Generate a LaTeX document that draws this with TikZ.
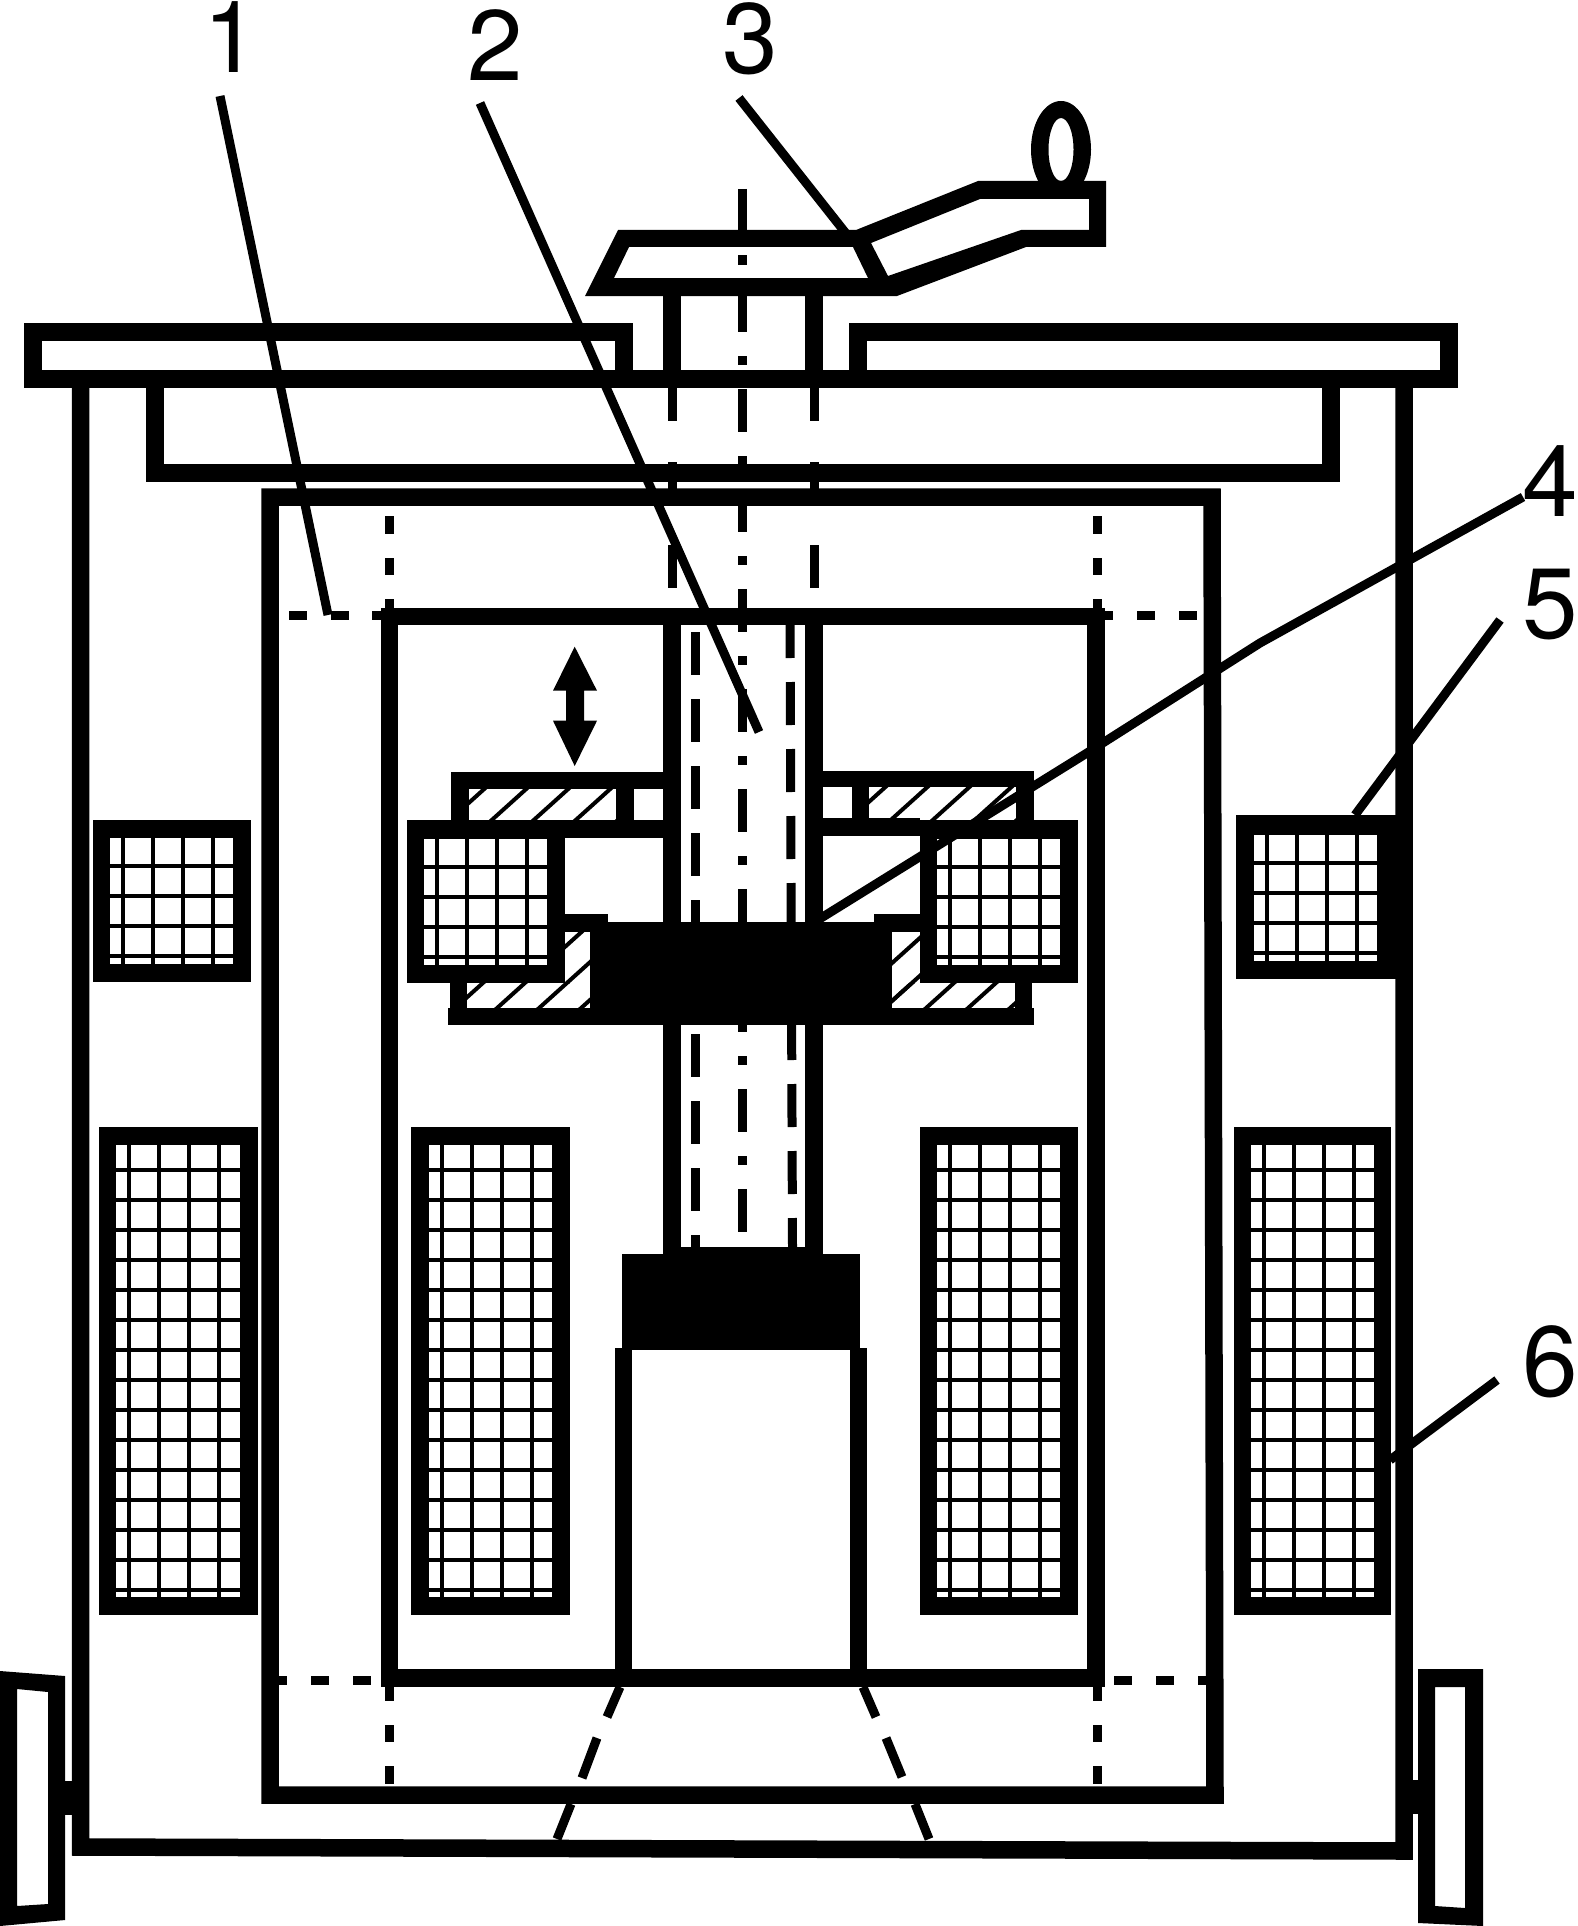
\documentclass[tikz,border=0pt]{standalone}
\usepackage{fontspec}
\setmainfont{TeX Gyre Heros}
\newcommand{\coilbox}[9]{%
  \fill[black] (#1,#2) rectangle (#3,#4);
  \fill[white] (#5,#6) rectangle (#7,#8);
  \begin{scope}
    \clip (#5,#6) rectangle (#7,#8);
    \foreach \i in {0,...,3} \draw[thinline] ({#5+13+30*\i},#6) -- ({#5+13+30*\i},#8);
    \foreach \i in {0,...,16} \draw[thinline] (#5,{#9+30*\i}) -- (#7,{#9+30*\i});
  \end{scope}
}
\newcommand{\hatchbox}[5]{%
  \begin{scope}
    \clip (#1,#2) rectangle (#3,#4);
    \foreach \i in {0,...,9} \draw[thinline] ({#5+42*\i-1.11*700},700) -- ({#5+42*\i-1.11*1100},1100);
  \end{scope}
}
\tikzset{
  wall/.style={line width=17.5pt,line join=miter,black},
  wire/.style={line width=9pt,black},
  thinline/.style={line width=4pt,black},
  hid/.style={line width=9pt,black},
  axisline/.style={line width=9pt,black,dash pattern=on 43pt off 24pt on 9pt off 24pt},
  tubedash/.style={line width=9pt,black,dash pattern=on 43pt off 24pt},
  lab/.style={font=\fontsize{100}{100}\selectfont,inner sep=0pt,anchor=base,text=black}
}
\begin{document}
\begin{tikzpicture}[x=1pt,y=-1pt]
\useasboundingbox (0,0) rectangle (1578,1926);
\fill[white] (0,0) rectangle (1578,1926);

% centre axis
\draw[axisline] (742.5,189) -- (742.5,1232);

% hidden stem lines
\foreach \x in {672.5,814} {
  \draw[hid] (\x,388) -- (\x,421);
  \draw[hid] (\x,462) -- (\x,505);
  \draw[hid] (\x,545) -- (\x,588);
}
% inner dashed tube
\draw[tubedash] (695.5,632) -- (695.5,1247);
\draw[tubedash] (790,615) -- (792.5,1247);

% small dashes at frame corners
\foreach \a/\b in {289/307,331/349,372/390,1105/1113,1137/1155,1179/1197}
  \draw[hid] (\a,615.5) -- (\b,615.5);
\foreach \a/\b in {279/287,311/329,353/371,1114/1132,1156/1174,1198/1206}
  \draw[hid] (\a,1680.5) -- (\b,1680.5);
\foreach \x/\xb in {389/389,1097/1097} {
  \draw[hid] (\x,516) -- (\x,534);
  \draw[hid] (\x,558) -- (\x,575);
  \draw[hid] (\x,599) -- (\x,610);
  \draw[hid] (\xb,1687) -- (\xb,1701);
  \draw[hid] (\xb,1725) -- (\xb,1742);
  \draw[hid] (\xb,1766) -- (\xb,1784);
}
% slanted bottom dashes
\draw[hid] (620,1687) -- (607,1717);
\draw[hid] (597,1738) -- (582,1778);
\draw[hid] (571,1804) -- (557,1839);
\draw[hid] (863,1687) -- (876,1717);
\draw[hid] (886,1738) -- (902,1777);
\draw[hid] (915,1804) -- (929,1839);

% lid
\draw[wall] (33,332) -- (624,332) -- (624,379) -- (858,379) -- (858,332) -- (1449,332) -- (1449,379) -- (33,379) -- cycle;
% tank
\draw[wall] (80.5,379) -- (80.5,1847) -- (1404,1851) -- (1404,379);
% box under lid
\draw[wall] (155,379) -- (155,473) -- (1331,473) -- (1331,379);
% stem
\draw[wall] (672,296) -- (672,379);
\draw[wall] (814,296) -- (814,379);
% inner box
\draw[wall] (270,497) -- (1212,497) -- (1215,1795) -- (270,1795) -- cycle;
% frame
\draw[wall] (389.5,616.5) rectangle (1096,1678);
% rod
\draw[wall] (672,616.5) -- (672,1255);
\draw[wall] (814,616.5) -- (814,1255);
% lower tube
\draw[wall] (623.5,1348) -- (623.5,1678);
\draw[wall] (858.5,1348) -- (858.5,1678);
% solid block under rod
\fill[black] (622,1254) rectangle (860,1350);
\fill[black] (681,1247) rectangle (805,1254);

% handle with cap
\fill[black,even odd rule] (1061,149.5) ellipse [x radius=30,y radius=48.5]
  (1061,149.5) ellipse [x radius=12.5,y radius=31.5];
\fill[black,even odd rule] (585,296) -- (618,230) -- (856,230) -- (978,181) -- (1106,181) -- (1106,247) -- (1026,247) -- (897,296) -- cycle
  (629,247) -- (853,247) -- (868,278) -- (614,278) -- cycle
  (871,243) -- (980,199) -- (1089,199) -- (1089,230) -- (1021,230) -- (888,276) -- cycle;
% axis piece over cap interior
\fill[black] (738,255) rectangle (747,265);

% hatches
\hatchbox{469}{789}{616}{820}{1318}
\hatchbox{869}{787}{1016}{820}{1717}
\hatchbox{467}{983}{590}{1008}{1490}
\hatchbox{565}{932}{590}{983}{1490}
\hatchbox{892}{932}{920}{1008}{1877}
\hatchbox{892}{983}{1015}{1008}{1877}

% upper shelves
\fill[black] (451,772) rectangle (663,789);
\fill[black] (451,772) rectangle (469,820);
\fill[black] (616,772) rectangle (634,820);
\fill[black] (407,820) rectangle (663,838);
\fill[black] (823,771) rectangle (1034,787);
\fill[black] (1016,771) rectangle (1034,820);
\fill[black] (851.5,771) rectangle (869,820);
\fill[black] (823,818) rectangle (920,836);
% lower shelves
\fill[black] (448,1008) rectangle (1034,1025);
\fill[black] (450,983) rectangle (467,1008);
\fill[black] (1015,983) rectangle (1032,1008);
% black block and steps
\fill[black] (590,932) rectangle (892,1025);
\fill[black] (608,922) rectangle (874,932);
\fill[black] (565,914) rectangle (608,932);
\fill[black] (874,914) rectangle (920,932);

% coils
\coilbox{407}{820}{565}{983}{424}{839}{547}{965}{867}
\coilbox{920}{820}{1078}{983}{937}{839}{1060}{965}{867}
\coilbox{93}{820}{251}{982}{110}{838}{233}{964}{866}
\coilbox{1236}{815}{1396}{979}{1254}{835}{1377}{961}{863}
\coilbox{99}{1127}{258}{1615}{116}{1145}{240}{1597}{1170}
\coilbox{411}{1127}{570}{1615}{429}{1145}{552}{1597}{1170}
\coilbox{920}{1127}{1078}{1615}{937}{1145}{1060}{1597}{1170}
\coilbox{1234}{1127}{1391}{1615}{1251}{1145}{1374}{1597}{1170}

% double arrow
\fill[black] (574.7,646.7) -- (597,690.7) -- (584,690.7) -- (584,720.7) -- (597,720.7) -- (574.7,766) -- (553,720.7) -- (566,720.7) -- (566,690.7) -- (553,690.7) -- cycle;

% wheels
\fill[black,even odd rule] (0,1671) -- (65,1676) -- (65,1920) -- (0,1926) -- cycle
  (17,1689) -- (48,1692) -- (48,1904) -- (17,1906) -- cycle;
\fill[black] (48,1781) rectangle (72,1815);
\fill[black,even odd rule] (1418,1669) -- (1483,1669) -- (1483,1926) -- (1418,1923) -- cycle
  (1435,1687) -- (1465,1687) -- (1465,1908) -- (1435,1906) -- cycle;
\fill[black] (1413,1780) rectangle (1435,1814);

% labels
\node[lab] (n1) at (231,73) {1};
\node[lab] (n2) at (495.5,81) {2};
\node[lab] (n3) at (750,74) {3};
\node[lab] (n4) at (1550,516) {4};
\node[lab] (n5) at (1550,638) {5};
\node[lab] (n6) at (1550,1396) {6};

% leaders
\coordinate (l1a) at (220,96);
\coordinate (l1b) at (328,615);
\coordinate (l2a) at (480,103);
\coordinate (l2b) at (759,732);
\coordinate (l3a) at (739,98);
\coordinate (l3b) at (848,236);
\coordinate (l4a) at (1523,497);
\coordinate (l4m) at (1260,643);
\coordinate (l4k) at (1087,753);
\coordinate (l4b) at (813,923);
\coordinate (l5a) at (1500,620);
\coordinate (l5b) at (1355,815);
\coordinate (l6a) at (1497,1380);
\coordinate (l6b) at (1390,1460);
\draw[wire] (l1a) -- (l1b);
\draw[wire] (l2a) -- (l2b);
\draw[wire] (l3a) -- (l3b);
\draw[wire] (l4a) -- (l4m) -- (l4k) -- (l4b);
\draw[wire] (l5a) -- (l5b);
\draw[wire] (l6a) -- (l6b);
\end{tikzpicture}
\end{document}
